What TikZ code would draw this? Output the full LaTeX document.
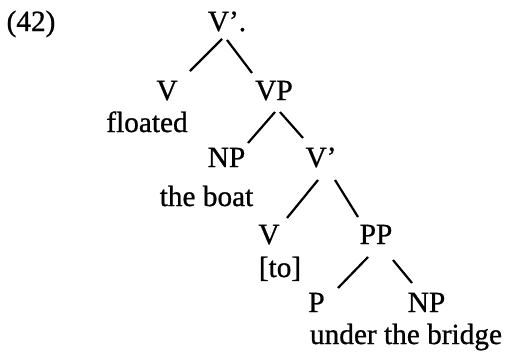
\documentclass[tikz,border=0pt]{standalone}
\usepackage{fontspec}
\setmainfont[FakeBold=0.8]{Liberation Serif}
\begin{document}
\begin{tikzpicture}[x=1pt,y=-1pt,
  lbl/.style={anchor=base,inner sep=0pt,font=\fontsize{29.3}{35}\selectfont},
  edge/.style={line width=2.2pt}]
\useasboundingbox[fill=white] (0,0) rectangle (505,354);
\node[lbl] (ex) at (31,31) {(42)};
\node[lbl] (r) at (227,31) {V'.};
\node[lbl] (v1) at (167,100) {V};
\node[lbl] (vp) at (274,100) {VP};
\node[lbl] (fl) at (147,132) {floated};
\node[lbl] (np1) at (226.5,167) {NP};
\node[lbl] (v2) at (321,167) {V'};
\node[lbl] (boat) at (206.5,206) {the boat};
\node[lbl] (v3) at (269,244) {V};
\node[lbl] (pp) at (376,244) {PP};
\node[lbl] (to) at (280,277) {[to]};
\node[lbl] (p) at (316.5,312) {P};
\node[lbl] (np2) at (426.5,312) {NP};
\node[lbl] (br) at (406,344) {under the bridge};
\draw[edge] ([shift={(-5,8)}]r.base) -- ([shift={(23,-29)}]v1.base);
\draw[edge] ([shift={(0,9)}]r.base) -- ([shift={(-22,-27)}]vp.base);
\draw[edge] ([shift={(1,12)}]vp.base) -- ([shift={(21.5,-24)}]np1.base);
\draw[edge] ([shift={(6,12)}]vp.base) -- ([shift={(-18,-29)}]v2.base);
\draw[edge] ([shift={(-3,13)}]v2.base) -- ([shift={(18,-26)}]v3.base);
\draw[edge] ([shift={(14,13)}]v2.base) -- ([shift={(-18,-27)}]pp.base);
\draw[edge] ([shift={(-8,13)}]pp.base) -- ([shift={(21.5,-24)}]p.base);
\draw[edge] ([shift={(17,16)}]pp.base) -- ([shift={(-14.5,-29)}]np2.base);
\end{tikzpicture}
\end{document}
